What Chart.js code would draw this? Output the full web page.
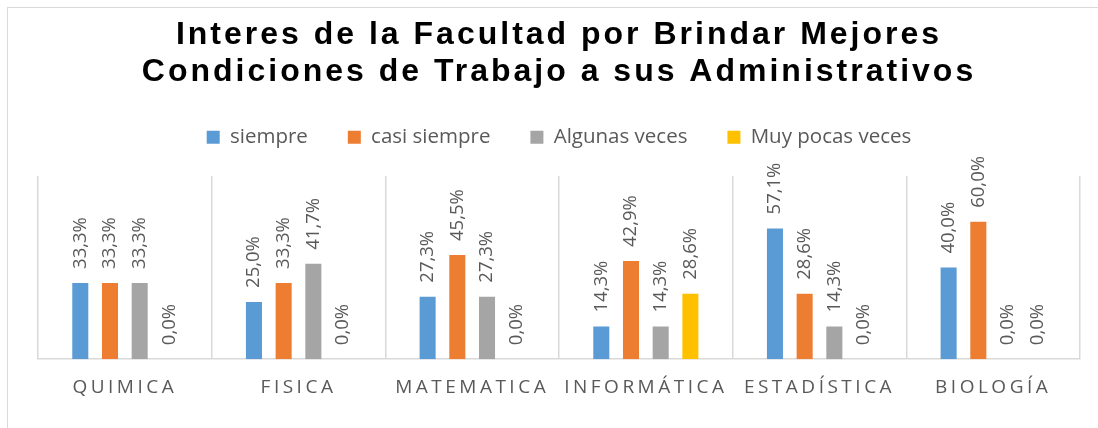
<!DOCTYPE html>
<html>
<head>
<meta charset="utf-8">
<script src="https://cdn.jsdelivr.net/npm/chart.js@4.4.1/dist/chart.umd.min.js"></script>
<style>
    html, body { margin: 0; padding: 0; background: #fff; overflow: hidden; }
    #frame {
        position: absolute; left: 7px; top: 7px;
        border-top: 1px solid #d9d9d9; border-left: 1px solid #d9d9d9;
    }
    #chart { display: block; }
</style>
</head>
<body>
<div id="frame"><canvas id="chart" width="1107" height="420"></canvas></div>
<script>
// Facultades y respuestas (porcentaje)
const facultades = ['QUIMICA', 'FISICA', 'MATEMATICA', 'INFORMÁTICA', 'ESTADÍSTICA', 'BIOLOGÍA'];
const siempre      = [33.3, 25.0, 27.3, 14.3, 57.1, 40.0];
const casiSiempre  = [33.3, 33.3, 45.5, 42.9, 28.6, 60.0];
const algunasVeces = [33.3, 41.7, 27.3, 14.3, 14.3, 0.0];
const muyPocas     = [0.0, 0.0, 0.0, 28.6, 0.0, 0.0];

const tituloLineas = ['Interes de la Facultad por Brindar Mejores', 'Condiciones de Trabajo a sus Administrativos'];

const GRAY_TEXT = '#595959';
const GRID = '#d9d9d9';

const fmtPct = v => v.toFixed(1).replace('.', ',') + '%';

// Excel-style spaced lettering for the title and category labels
const letterSpacing = {
    id: 'letterSpacing',
    afterLayout(chart) {
        const wrap = (obj, fn, spacing) => {
            if (!obj || obj['_spaced_' + fn]) return;
            const orig = obj[fn];
            obj[fn] = function (...args) {
                const ctx = chart.ctx;
                const prev = ctx.letterSpacing;
                ctx.letterSpacing = spacing;
                orig.apply(this, args);
                ctx.letterSpacing = prev;
            };
            obj['_spaced_' + fn] = true;
        };
        wrap(chart.titleBlock, 'draw', '3px');
        wrap(chart.scales.x, 'drawLabels', '3.5px');
    }
};

// Rotated value labels above each bar
const valueLabels = {
    id: 'valueLabels',
    afterDatasetsDraw(chart) {
        const ctx = chart.ctx;
        ctx.save();
        ctx.font = '18.5px "Open Sans"';
        ctx.fillStyle = GRAY_TEXT;
        ctx.textAlign = 'left';
        ctx.textBaseline = 'middle';
        chart.data.datasets.forEach((ds, i) => {
            chart.getDatasetMeta(i).data.forEach((bar, j) => {
                ctx.save();
                ctx.translate(bar.x, bar.y - 14);
                ctx.rotate(-Math.PI / 2);
                ctx.fillText(fmtPct(ds.data[j]), 0, 0);
                ctx.restore();
            });
        });
        ctx.restore();
    }
};

const serie = (label, data, color) => ({
    label, data, backgroundColor: color, borderWidth: 0,
    categoryPercentage: 0.684, barPercentage: 0.54
});

new Chart(document.getElementById('chart'), {
    type: 'bar',
    data: {
        labels: facultades,
        datasets: [
            serie('siempre', siempre, '#5B9BD5'),
            serie('casi siempre', casiSiempre, '#ED7D31'),
            serie('Algunas veces', algunasVeces, '#A5A5A5'),
            serie('Muy pocas veces', muyPocas, '#FFC000')
        ]
    },
    options: {
        responsive: false,
        animation: false,
        layout: { padding: { left: 30, right: 35, top: 0, bottom: 12 } },
        plugins: {
            tooltip: { enabled: false },
            title: {
                display: true,
                text: tituloLineas,
                color: '#000',
                font: { family: '"Liberation Sans", Arial', size: 32, weight: 'bold', lineHeight: 37 / 32 },
                padding: { top: 9, bottom: -4 }
            },
            legend: {
                display: true,
                weight: 1800,
                labels: {
                    color: GRAY_TEXT,
                    font: { family: '"Open Sans"', size: 20.5 },
                    boxWidth: 13,
                    boxHeight: 13,
                    padding: 40
                }
            },
            subtitle: {
                display: true,
                text: ' ',
                font: { size: 10, lineHeight: 1 },
                padding: { top: 0, bottom: 8.5 }
            }
        },
        scales: {
            x: {
                grid: { color: GRID, lineWidth: 1.5, drawTicks: false, offset: true },
                border: { color: GRID, width: 1.5 },
                ticks: {
                    color: GRAY_TEXT,
                    font: { family: '"Open Sans"', size: 19 },
                    padding: 17,
                    autoSkip: false,
                    maxRotation: 0
                }
            },
            y: {
                display: false,
                min: 0,
                max: 80
            }
        }
    },
    plugins: [letterSpacing, valueLabels]
});
</script>
</body>
</html>
